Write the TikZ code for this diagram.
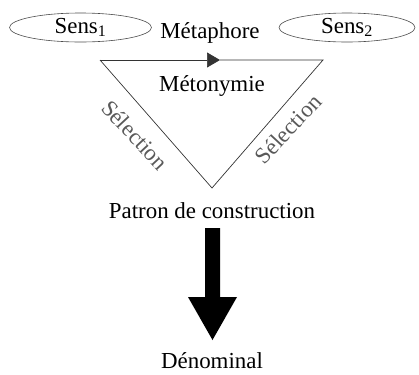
\documentclass[tikz,border=0pt]{standalone}
\usepackage{fontspec}
\setmainfont{Liberation Serif}
\usetikzlibrary{arrows.meta,shapes.geometric}
\begin{document}
\begin{tikzpicture}[x=1bp,y=-1bp,
  lbl/.style={font=\fontsize{23}{26}\selectfont, inner sep=0pt},
  sel/.style={font=\fontsize{23}{26}\selectfont, inner sep=0pt, text=black!65},
  sensbox/.style={draw=black!70, line width=0.6bp, ellipse, minimum width=142bp, minimum height=29bp, inner sep=0pt, font=\fontsize{23}{26}\selectfont},
  edge/.style={line width=0.7bp, draw=black!80}]
\useasboundingbox (0,0) rectangle (419,375);
\node[sensbox] (s1) at (80.5,27.5) {Sens\textsubscript{1}};
\node[sensbox, minimum width=136bp] (s2) at (347,27.5) {Sens\textsubscript{2}};
\node[lbl] (meta) at (210,33) {Métaphore};
\coordinate (tl) at (100,60);
\coordinate (tr) at (323,60);
\coordinate (bt) at (212,188);
\coordinate (mid) at (220,60);
\draw[edge, -{Triangle[length=13bp,width=15bp]}] (tl) -- (mid);
\draw[edge] (mid) -- (tr) -- (bt) -- (tl);
\node[lbl] (meto) at (212,86) {Métonymie};
\node[sel, rotate=-47] (sell) at (135,135) {Sélection};
\node[sel, rotate=47] (selr) at (288,129) {Sélection};
\node[lbl] (patron) at (212,211) {Patron de construction};
\node[lbl] (denom) at (212,361) {Dénominal};
\fill (205,228) -- (220,228) -- (220,297) -- (237,297) -- (212.5,340) -- (188,297) -- (205,297) -- cycle;
\end{tikzpicture}
\end{document}
